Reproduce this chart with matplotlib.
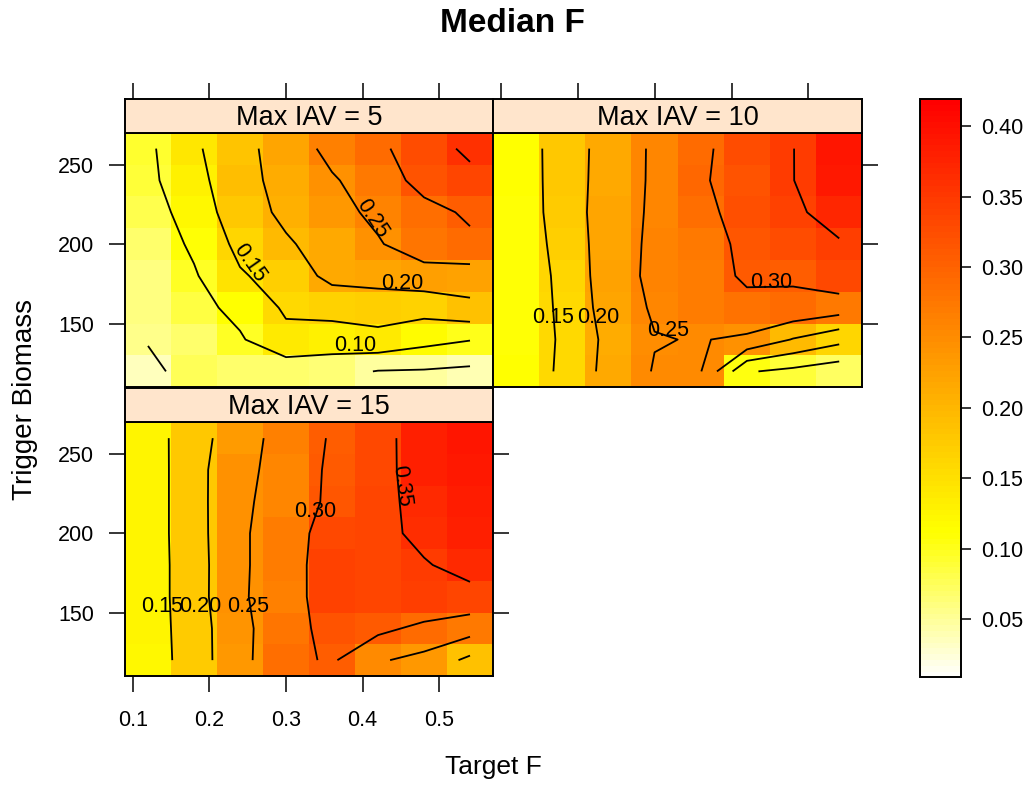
import colorsys
import numpy as np
import matplotlib
matplotlib.use('Agg')
import matplotlib.pyplot as plt
from matplotlib.colors import ListedColormap, Normalize

plt.rcParams['font.family'] = ['Liberation Sans', 'DejaVu Sans']

# grid of the levelplot (cell centres)
target_f = [0.12, 0.18, 0.24, 0.30, 0.36, 0.42, 0.48, 0.54]
trigger_biomass = [120, 140, 160, 180, 200, 220, 240, 260]
strip_titles = ['Max IAV = 5', 'Max IAV = 10', 'Max IAV = 15']
contour_levels = [0.05, 0.10, 0.15, 0.20, 0.25, 0.30, 0.35]
colorbar_ticks = [0.05, 0.10, 0.15, 0.20, 0.25, 0.30, 0.35, 0.40]

# median F, one row per trigger biomass (120 first ... 260 last)
median_f_iav5 = [
    [0.034, 0.075, 0.070, 0.070, 0.066, 0.048, 0.046, 0.040],
    [0.054, 0.070, 0.095, 0.137, 0.129, 0.137, 0.116, 0.102],
    [0.060, 0.085, 0.113, 0.157, 0.165, 0.170, 0.168, 0.188],
    [0.060, 0.095, 0.145, 0.170, 0.214, 0.220, 0.230, 0.226],
    [0.070, 0.108, 0.163, 0.195, 0.218, 0.246, 0.277, 0.291],
    [0.080, 0.120, 0.180, 0.209, 0.235, 0.260, 0.285, 0.307],
    [0.090, 0.130, 0.190, 0.210, 0.245, 0.274, 0.317, 0.336],
    [0.091, 0.142, 0.185, 0.222, 0.264, 0.290, 0.327, 0.360],
]
median_f_iav10 = [
    [0.112, 0.159, 0.215, 0.253, 0.252, 0.104, 0.088, 0.071],
    [0.110, 0.157, 0.212, 0.248, 0.252, 0.243, 0.197, 0.164],
    [0.110, 0.160, 0.220, 0.256, 0.270, 0.282, 0.290, 0.275],
    [0.110, 0.163, 0.224, 0.262, 0.270, 0.310, 0.305, 0.332],
    [0.110, 0.170, 0.222, 0.261, 0.275, 0.314, 0.325, 0.345],
    [0.111, 0.177, 0.220, 0.259, 0.285, 0.322, 0.340, 0.373],
    [0.112, 0.178, 0.217, 0.258, 0.295, 0.320, 0.349, 0.390],
    [0.112, 0.179, 0.215, 0.258, 0.290, 0.326, 0.349, 0.394],
]
median_f_iav15 = [
    [0.121, 0.176, 0.236, 0.287, 0.306, 0.255, 0.236, 0.188],
    [0.125, 0.175, 0.239, 0.276, 0.320, 0.312, 0.288, 0.272],
    [0.125, 0.178, 0.246, 0.267, 0.340, 0.335, 0.345, 0.335],
    [0.125, 0.178, 0.245, 0.268, 0.339, 0.335, 0.346, 0.367],
    [0.125, 0.180, 0.245, 0.268, 0.331, 0.335, 0.363, 0.380],
    [0.125, 0.180, 0.246, 0.259, 0.314, 0.335, 0.367, 0.385],
    [0.125, 0.180, 0.245, 0.257, 0.312, 0.330, 0.379, 0.390],
    [0.127, 0.178, 0.232, 0.267, 0.305, 0.330, 0.380, 0.393],
]

# contour labels as placed in the original: (level, target F, biomass, angle)
labels_iav5 = [(0.10, 0.390, 136, 0), (0.15, 0.253, 188, -55),
               (0.20, 0.451, 175, 0), (0.25, 0.412, 216, -57)]
labels_iav10 = [(0.15, 0.168, 154, 0), (0.20, 0.227, 154, 0),
                (0.25, 0.318, 146, 0), (0.30, 0.452, 176, 0)]
labels_iav15 = [(0.15, 0.138, 154, 0), (0.20, 0.188, 154, 0),
                (0.25, 0.251, 154, 0), (0.30, 0.338, 214, 0),
                (0.35, 0.451, 230, -82)]


# R's heat.colors(n), reversed so low values are white
def heat_colors(n):
    j = n // 4
    i = n - j
    cols = [colorsys.hsv_to_rgb(h, 1, 1) for h in np.linspace(0, 1 / 6, i)]
    cols += [colorsys.hsv_to_rgb(1 / 6, s, 1)
             for s in np.linspace(1 - 1 / (2 * j), 1 / (2 * j), j)]
    return cols


cmap = ListedColormap(heat_colors(100)[::-1])
all_z = np.concatenate([np.ravel(median_f_iav5), np.ravel(median_f_iav10),
                        np.ravel(median_f_iav15)])
zlo, zhi = all_z.min(), all_z.max()
pad = 0.07 * (zhi - zlo)
norm = Normalize(zlo - pad, zhi + pad)

W, H = 1036, 785


def box(x0, y0, x1, y1):
    return [x0 / W, 1 - y1 / H, (x1 - x0) / W, (y1 - y0) / H]


fig = plt.figure(figsize=(W / 100, H / 100), dpi=100)

tick_kw = dict(direction='out', length=11.5, width=1.1, labelsize=15.5)


def draw_panel(rect, strip_rect, z, title, labels):
    ax = fig.add_axes(rect)
    ax.pcolormesh(target_f, trigger_biomass, np.array(z), cmap=cmap, norm=norm,
                  shading='nearest')
    ax.contour(target_f, trigger_biomass, np.array(z), levels=contour_levels,
               colors='black', linewidths=1.3)
    for lev, lx, ly, rot in labels:
        ax.text(lx, ly, '%.2f' % lev, ha='center', va='center', rotation=rot,
                fontsize=15.5, rotation_mode='anchor')
    ax.set_xlim(0.09, 0.57)
    ax.set_ylim(110, 270)
    ax.set_xticks([0.1, 0.2, 0.3, 0.4, 0.5])
    ax.set_yticks([150, 200, 250])
    ax.set_xticklabels(['0.1', '0.2', '0.3', '0.4', '0.5'])
    for s in ax.spines.values():
        s.set_linewidth(1.4)
    ax.tick_params(**tick_kw)

    sax = fig.add_axes(strip_rect)
    sax.set_facecolor('#FFE5CC')
    sax.set_xlim(0.09, 0.57)
    sax.set_xticks([0.1, 0.2, 0.3, 0.4, 0.5])
    sax.set_yticks([])
    for s in sax.spines.values():
        s.set_linewidth(1.4)
    sax.text(0.5, 0.45, title, transform=sax.transAxes, ha='center', va='center',
             fontsize=19.5)
    sax.tick_params(**tick_kw)
    return ax, sax


# panel 1 (top left)
ax1, s1 = draw_panel(box(125, 132.7, 493, 387.3), box(125, 99, 493, 132.7),
                     median_f_iav5, strip_titles[0], labels_iav5)
ax1.tick_params(bottom=False, labelbottom=False, left=True, labelleft=True)
s1.tick_params(bottom=False, labelbottom=False, top=True, labeltop=False)

# panel 2 (top right)
ax2, s2 = draw_panel(box(493, 132.7, 862.3, 387.3), box(493, 99, 862.3, 132.7),
                     median_f_iav10, strip_titles[1], labels_iav10)
ax2.tick_params(bottom=False, labelbottom=False, left=False, labelleft=False,
                right=True, labelright=False)
s2.tick_params(bottom=False, labelbottom=False, top=True, labeltop=False)

# panel 3 (bottom left)
ax3, s3 = draw_panel(box(125, 422.3, 493, 676), box(125, 388, 493, 422.3),
                     median_f_iav15, strip_titles[2], labels_iav15)
ax3.tick_params(bottom=True, labelbottom=True, left=True, labelleft=True,
                right=True, labelright=False)
ax3.tick_params(axis='x', pad=13)
ax3.tick_params(axis='y', pad=11)
ax1.tick_params(axis='y', pad=11)
s3.tick_params(bottom=False, labelbottom=False)

# colour key
cax = fig.add_axes(box(920, 99, 960.7, 677.3))
cb = fig.colorbar(plt.cm.ScalarMappable(norm=norm, cmap=cmap), cax=cax,
                  ticks=colorbar_ticks)
cb.outline.set_linewidth(1.4)
cax.tick_params(direction='out', length=7, width=1.1, labelsize=15.5, pad=8)
cax.set_yticklabels(['%.2f' % t for t in colorbar_ticks])

fig.text(512.5 / W, 1 - 24 / H, 'Median F', ha='center', va='center',
         fontsize=24, fontweight='bold')
fig.text(493 / W, 1 - 767 / H, 'Target F', ha='center', va='center', fontsize=19)
fig.text(25 / W, 1 - 399 / H, 'Trigger Biomass', ha='center', va='center',
         rotation=90, fontsize=20)

fig.savefig('out.png', dpi=100)
